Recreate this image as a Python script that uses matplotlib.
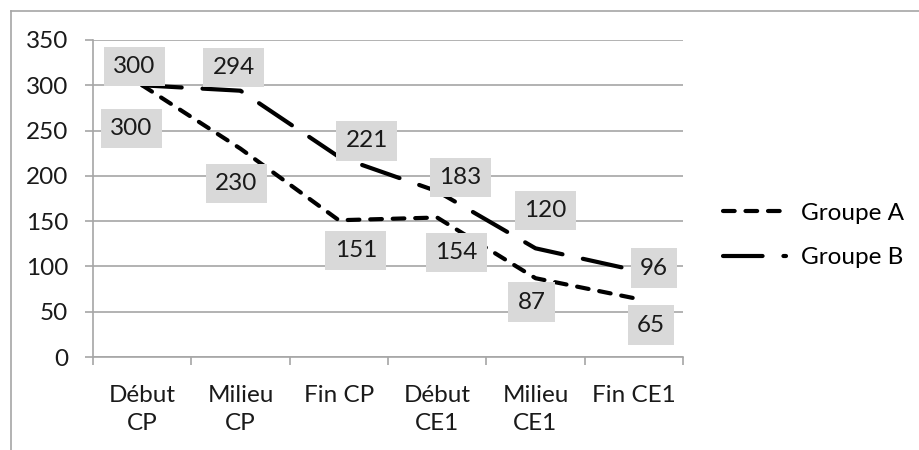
import matplotlib.pyplot as plt
from matplotlib.lines import Line2D

# Données
categories = ['Début\nCP', 'Milieu\nCP', 'Fin CP', 'Début\nCE1', 'Milieu\nCE1', 'Fin CE1']
groupe_a = [300, 230, 151, 154, 87, 65]
groupe_b = [300, 294, 221, 183, 120, 96]

# Décalage des étiquettes (pixels) pour imiter le placement d'Excel
offsets_a = [(-11, -43), (-4, -35), (17, -30), (19, -35), (-4, -24), (17, -27)]
offsets_b = [(-8, 19), (-7, 23), (28, 16), (23, 14), (10, 38), (20, 2)]

plt.rcParams['font.family'] = ['Lato', 'DejaVu Sans']
fs = 17.5
grid_col = '#a6a6a6'

fig = plt.figure(figsize=(9.19, 4.5), dpi=100)
ax = fig.add_axes([93 / 919, 1 - 357 / 450, 590 / 919, 317 / 450])

x = list(range(len(categories)))
la, = ax.plot(x, groupe_a, color='black', lw=3.0, linestyle=(0, (2.8, 2.6)),
              dash_capstyle='round', label='Groupe A', zorder=3)
lb, = ax.plot(x, groupe_b, color='black', lw=3.0, linestyle=(0, (9.5, 5.0)),
              dash_capstyle='round', label='Groupe B', zorder=3)

for vals, offs in [(groupe_a, offsets_a), (groupe_b, offsets_b)]:
    for xi, v, (dx, dy) in zip(x, vals, offs):
        ax.annotate(str(v), (xi, v), xytext=(dx, dy), textcoords='offset pixels',
                    ha='center', va='center', fontsize=fs, color='#1a1a1a', zorder=5,
                    bbox=dict(boxstyle='square,pad=0.38', fc='#d9d9d9', ec='none'))

ax.set_xlim(-0.5, len(categories) - 0.5)
ax.set_ylim(0, 350)
ax.set_yticks(range(0, 351, 50))
ax.set_xticks(x)
ax.set_xticklabels(categories, fontsize=fs, linespacing=1.45)
ax.set_xticks([i - 0.5 for i in range(len(categories) + 1)], minor=True)
ax.tick_params(axis='x', which='major', length=0, pad=20)
ax.tick_params(axis='x', which='minor', length=6, color=grid_col, width=1.2)
ax.tick_params(axis='y', length=6, color=grid_col, width=1.2, pad=12, labelsize=fs)
for t in ax.get_yticklabels() + ax.get_xticklabels():
    t.set_color('#1a1a1a')

ax.grid(axis='y', color=grid_col, lw=1.2)
ax.set_axisbelow(True)
for s in ['top', 'right']:
    ax.spines[s].set_visible(False)
for s in ['left', 'bottom']:
    ax.spines[s].set_color(grid_col)
    ax.spines[s].set_linewidth(1.2)

fig.legend(handles=[la, lb], loc='center left', bbox_to_anchor=(723 / 919, 1 - 235.5 / 450),
           frameon=False, fontsize=fs, handlelength=2.6, handletextpad=0.6,
           labelspacing=0.95, borderpad=0, borderaxespad=0)

# Cadre extérieur (gauche et haut)
fig.add_artist(Line2D([10.5 / 919, 10.5 / 919], [0, 1 - 10.5 / 450], color=grid_col, lw=1.2))
fig.add_artist(Line2D([10.5 / 919, 1], [1 - 10.5 / 450, 1 - 10.5 / 450], color=grid_col, lw=1.2))

fig.savefig('out.png', dpi=100)
